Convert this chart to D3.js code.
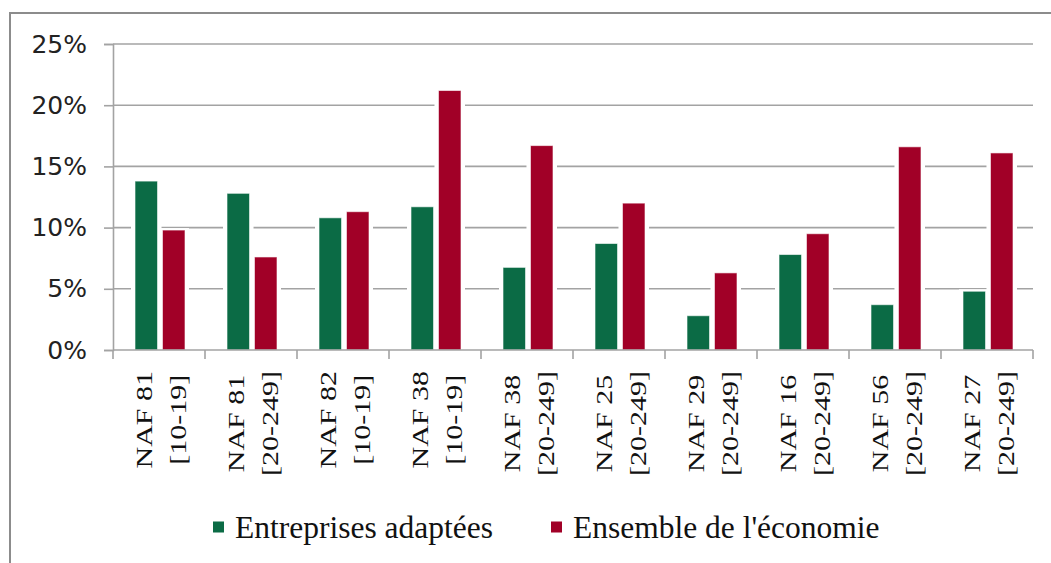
<!DOCTYPE html>
<html>
<head>
<meta charset="utf-8">
<script src="https://cdn.jsdelivr.net/npm/d3@7"></script>
<style>
  body { margin: 0; background: #fff; }
</style>
</head>
<body>
<div id="chart"></div>
<script>
// Data (share per sector / size class)
const nafCodes = ["NAF 81", "NAF 81", "NAF 82", "NAF 38", "NAF 38", "NAF 25", "NAF 29", "NAF 16", "NAF 56", "NAF 27"];
const sizeClasses = ["[10-19]", "[20-249]", "[10-19]", "[10-19]", "[20-249]", "[20-249]", "[20-249]", "[20-249]", "[20-249]", "[20-249]"];
const seriesNames = ["Entreprises adaptées", "Ensemble de l'économie"];
const entreprisesAdaptees = [0.138, 0.128, 0.108, 0.117, 0.0675, 0.087, 0.028, 0.078, 0.037, 0.048];
const ensembleEconomie = [0.098, 0.076, 0.113, 0.212, 0.167, 0.120, 0.063, 0.095, 0.166, 0.161];
const yTicks = [0, 0.05, 0.10, 0.15, 0.20, 0.25];

const colors = ["#0b6b45", "#a10027"];

const W = 1051, H = 563;
const margin = { top: 44, right: 18, bottom: 213, left: 113 },
    width = W - margin.left - margin.right,
    height = H - margin.top - margin.bottom;

const svg = d3.select("#chart")
  .append("svg")
    .attr("width", W)
    .attr("height", H);

// chart frame (left and top edges visible)
svg.append("path")
  .attr("d", `M10,${H} V13 H${W}`)
  .attr("fill", "none")
  .attr("stroke", "#8c8c8c")
  .attr("stroke-width", 2);

const g = svg.append("g")
  .attr("transform", `translate(${margin.left},${margin.top})`);

const cats = d3.range(nafCodes.length);

const x0 = d3.scaleBand()
  .domain(cats)
  .range([0, width])
  .padding(0);

const x1 = d3.scaleBand()
  .domain(seriesNames)
  .range([22, 72])
  .paddingInner(0.18);

const y = d3.scaleLinear()
  .domain([0, 0.25])
  .range([height, 0]);

// Gridlines
g.append("g")
  .selectAll("line")
  .data(yTicks.filter(d => d > 0))
  .join("line")
    .attr("x1", 0)
    .attr("x2", width)
    .attr("y1", d => y(d))
    .attr("y2", d => y(d))
    .attr("stroke", "#a3a3a3")
    .attr("stroke-width", 1.6);

const rows = cats.map(i => seriesNames.map((s, k) => ({
  cat: i, series: s, k: k,
  value: k === 0 ? entreprisesAdaptees[i] : ensembleEconomie[i]
})));

const groups = g.selectAll(".grp")
  .data(rows)
  .join("g")
    .attr("class", "grp")
    .attr("transform", (d, i) => `translate(${x0(i)},0)`);

// white halo behind the bars (breaks the gridlines)
groups.selectAll(".halo")
  .data(d => d)
  .join("rect")
    .attr("class", "halo")
    .attr("x", d => x1(d.series) - 4)
    .attr("y", d => y(d.value) - 2)
    .attr("width", x1.bandwidth() + 8)
    .attr("height", d => height - y(d.value) + 2)
    .attr("fill", "#fff");

groups.selectAll(".bar")
  .data(d => d)
  .join("rect")
    .attr("class", "bar")
    .attr("x", d => x1(d.series))
    .attr("y", d => y(d.value))
    .attr("width", x1.bandwidth())
    .attr("height", d => height - y(d.value))
    .attr("fill", d => colors[d.k])
    .attr("stroke", "#ffffff")
    .attr("stroke-opacity", 0.6)
    .attr("stroke-width", 1);

// Y axis
const yAxis = g.append("g")
  .call(d3.axisLeft(y).tickValues(yTicks).tickFormat(d3.format(".0%")).tickSize(9).tickPadding(17));
yAxis.select(".domain").attr("stroke", "#a3a3a3").attr("stroke-width", 1.6);
yAxis.selectAll(".tick line").attr("stroke", "#a3a3a3").attr("stroke-width", 1.6);
yAxis.selectAll("text")
  .attr("font-family", "'DejaVu Sans', sans-serif")
  .attr("font-size", 25)
  .attr("fill", "#222");

// X axis line + category boundary ticks
const xAxis = g.append("g").attr("transform", `translate(0,${height})`);
xAxis.append("line")
  .attr("x1", 0).attr("x2", width)
  .attr("stroke", "#a3a3a3").attr("stroke-width", 1.6);
xAxis.selectAll(".bt")
  .data(d3.range(nafCodes.length + 1))
  .join("line")
    .attr("class", "bt")
    .attr("x1", i => i < nafCodes.length ? x0(i) : width)
    .attr("x2", i => i < nafCodes.length ? x0(i) : width)
    .attr("y1", 0).attr("y2", 9)
    .attr("stroke", "#a3a3a3").attr("stroke-width", 1.6);

// rotated two-line category labels (condensed serif look)
const labelTop = 371;
cats.forEach(i => {
  const cx = x0(i) + x0.bandwidth() / 2;
  const lab = g.append("g");
  const lines = [nafCodes[i], sizeClasses[i]];
  const texts = lines.map((t, j) => lab.append("text")
    .attr("font-family", "'Liberation Serif', serif")
    .attr("font-size", 30)
    .attr("fill", "#111")
    .attr("text-anchor", "middle")
    .text(t));
  const L = d3.max(texts, t => t.node().getComputedTextLength());
  const cy = labelTop - margin.top + L / 2;
  texts.forEach((t, j) => {
    const bx = cx + (j === 0 ? -7 : 27);
    t.attr("transform", `translate(${bx},${cy}) rotate(-90) scale(1,0.8)`);
  });
});

// Legend
const legendX = [213, 551];
const legend = svg.append("g");
seriesNames.forEach((s, k) => {
  legend.append("rect")
    .attr("x", legendX[k])
    .attr("y", 521.5)
    .attr("width", 11)
    .attr("height", 11)
    .attr("fill", colors[k]);
  legend.append("text")
    .attr("x", legendX[k] + 22)
    .attr("y", 538)
    .attr("font-family", "'Liberation Serif', serif")
    .attr("font-size", 31.5)
    .attr("fill", "#111")
    .text(s);
});
</script>
</body>
</html>
